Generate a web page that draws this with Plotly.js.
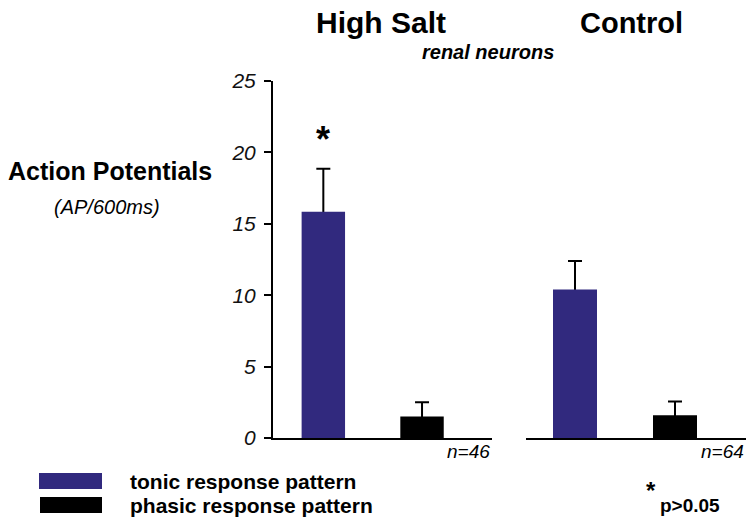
<!DOCTYPE html>
<html>
<head>
<meta charset="utf-8">
<script src="https://cdn.plot.ly/plotly-3.0.1.min.js"></script>
<style>html,body{margin:0;padding:0;background:#fff;}#chart{width:746px;height:517px;}</style>
</head>
<body>
<div id="chart"></div>
<script>
// ---- data ----
const groups = ["High Salt", "Control"];
const patternKeys = ["tonic", "phasic"];
const patternNames = ["tonic response pattern", "phasic response pattern"];
const highSaltMeans = [15.85, 1.5];
const highSaltErr = [3.0, 1.0];
const controlMeans = [10.4, 1.6];
const controlErr = [2.0, 0.95];
const nLabels = ["n=46", "n=64"];
const yTicks = [0, 5, 10, 15, 20, 25];
const yTitle = "Action Potentials";
const ySubtitle = "(AP/600ms)";
const subTitle = "renal neurons";
const sigNote = "p>0.05";

// ---- style ----
const FONT = "Liberation Sans, Arial, Helvetica, sans-serif";
const BLUE = "#31297e";
const BLACK = "#000000";
const barColors = [BLUE, BLACK];

// layout geometry (pixels)
const L = 273, T = 81, W = 473, H = 357;
function px(x) { return (x - L) / W; }
function py(y) { return (T + H - y) / H; }

function errTrace(means, errs, xa) {
  return {
    type: "bar", x: patternKeys, y: means, xaxis: xa, yaxis: "y",
    width: 0.44, marker: {color: "rgba(0,0,0,0)"},
    error_y: {type: "data", symmetric: false, array: errs, arrayminus: means,
              color: BLACK, thickness: 2, width: 7},
    hoverinfo: "skip"
  };
}
function barTrace(means, xa, name) {
  return {
    type: "bar", x: patternKeys, y: means, xaxis: xa, yaxis: "y",
    width: 0.44, marker: {color: barColors, line: {width: 0}}, name: name
  };
}

const data = [
  errTrace(highSaltMeans, highSaltErr, "x"),
  barTrace(highSaltMeans, "x", groups[0]),
  errTrace(controlMeans, controlErr, "x2"),
  barTrace(controlMeans, "x2", groups[1])
];

const xBase = {
  type: "category", showline: true, linewidth: 2, linecolor: BLACK,
  showticklabels: false, ticks: "", showgrid: false, zeroline: false,
  anchor: "y", fixedrange: true
};

const annotations = [
  {text: "<b>" + groups[0] + "</b>", x: px(381), y: py(23), font: {size: 30}},
  {text: "<b>" + groups[1] + "</b>", x: px(631), y: py(23), font: {size: 29}},
  {text: "<b><i>" + subTitle + "</i></b>", x: px(488), y: py(52), font: {size: 20}},
  {text: "<b>" + yTitle + "</b>", x: px(110), y: py(171), font: {size: 25}},
  {text: "<i>" + ySubtitle + "</i>", x: px(107), y: py(207), font: {size: 20}},
  {text: "<b>*</b>", xref: "x", x: patternKeys[0], y: py(139), font: {size: 36}},
  {text: "<i>" + nLabels[0] + "</i>", xref: "x domain", x: 1, xanchor: "right", y: 0, yanchor: "top", yshift: -1, font: {size: 19}},
  {text: "<i>" + nLabels[1] + "</i>", xref: "x2 domain", x: 1, xanchor: "right", y: 0, yanchor: "top", yshift: -1, font: {size: 19}},
  {text: "<b>" + patternNames[0] + "</b>", x: px(128), xanchor: "left", y: py(481), font: {size: 21}},
  {text: "<b>" + patternNames[1] + "</b>", x: px(128), xanchor: "left", y: py(505), font: {size: 21}},
  {text: "<b>*</b>", x: px(651), y: py(491), font: {size: 24}},
  {text: "<b>" + sigNote + "</b>", x: px(658), xanchor: "left", y: py(505), font: {size: 19}}
].map(a => Object.assign({xref: "paper", yref: "paper", showarrow: false,
  xanchor: "center", yanchor: "middle"}, a, {font: Object.assign({family: FONT, color: BLACK}, a.font)}));

const shapes = [
  {type: "rect", xref: "paper", yref: "paper", x0: px(39), x1: px(102), y0: py(473), y1: py(489),
   fillcolor: barColors[0], line: {width: 0}},
  {type: "rect", xref: "paper", yref: "paper", x0: px(40), x1: px(102), y0: py(497), y1: py(513),
   fillcolor: barColors[1], line: {width: 0}}
];

const layout = {
  width: 746, height: 517,
  margin: {l: L, r: 746 - L - W, t: T, b: 517 - T - H, pad: 0},
  paper_bgcolor: "#ffffff", plot_bgcolor: "#ffffff",
  showlegend: false, barmode: "overlay",
  font: {family: FONT, color: BLACK},
  xaxis: Object.assign({}, xBase, {domain: [0, px(492)], range: [-0.51, 1.709]}),
  xaxis2: Object.assign({}, xBase, {domain: [px(526), 1], range: [-0.49, 1.71]}),
  yaxis: {
    range: [0, 25], tickvals: yTicks, ticktext: yTicks.map(String),
    ticks: "outside", ticklen: 7, tickwidth: 2, tickcolor: BLACK,
    showline: true, linewidth: 2, linecolor: BLACK,
    showgrid: false, zeroline: false, anchor: "x", fixedrange: true,
    tickfont: {family: FONT, size: 21, style: "italic", color: "#111"},
    ticklabelstandoff: 4
  },
  annotations: annotations,
  shapes: shapes
};

Plotly.newPlot("chart", data, layout, {staticPlot: true, displayModeBar: false});
</script>
</body>
</html>
